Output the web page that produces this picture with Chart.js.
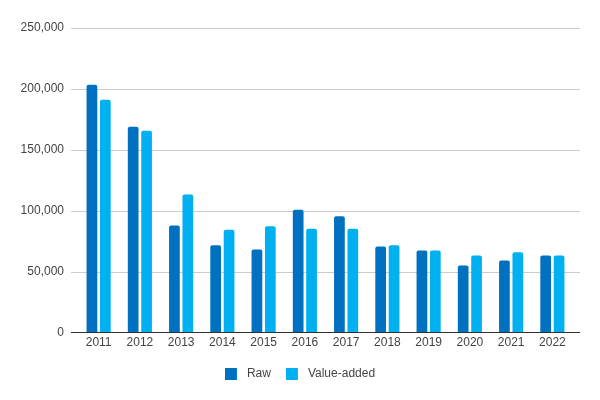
<!DOCTYPE html>
<html>
<head>
<meta charset="utf-8">
<style>
  html, body { margin: 0; padding: 0; background: #fff; }
  #wrap { width: 600px; height: 400px; position: relative; }
</style>
<script src="https://cdn.jsdelivr.net/npm/chart.js@4"></script>
</head>
<body>
<div id="wrap"><canvas id="c" width="600" height="400"></canvas></div>
<script>
const years = ['2011','2012','2013','2014','2015','2016','2017','2018','2019','2020','2021','2022'];
const rawValues = [203300, 168900, 87700, 71500, 68000, 100800, 95300, 70500, 67200, 54900, 59000, 63100];
const valueAddedValues = [191000, 165600, 113300, 84400, 87100, 85200, 85200, 71500, 67200, 63100, 65800, 63100];
const yTicks = [0, 50000, 100000, 150000, 200000, 250000];

const colors = ['#0070C0', '#00B0F0'];
const font = { family: '"Liberation Sans", Arial, sans-serif', size: 12 };

// Legend swatch: 12x12 square on the left of a 16px-wide box (gives a wider gap to the text)
function swatch(color) {
  const c = document.createElement('canvas');
  c.width = 16; c.height = 12;
  const g = c.getContext('2d');
  g.fillStyle = color;
  g.fillRect(0, 0, 12, 12);
  return c;
}
const swatches = colors.map(swatch);

// Draw horizontal gridlines slightly wider than the category area (as in the reference)
const gridPlugin = {
  id: 'wideGrid',
  beforeDatasetsDraw(chart) {
    const { ctx, chartArea, scales } = chart;
    const ext = 7;
    ctx.save();
    scales.y.ticks.forEach(t => {
      if (t.value === 0) return;
      const y = Math.round(scales.y.getPixelForValue(t.value)) + 0.5;
      ctx.beginPath();
      ctx.strokeStyle = '#cccccc';
      ctx.lineWidth = 1;
      ctx.moveTo(chartArea.left - ext, y);
      ctx.lineTo(chartArea.right + ext, y);
      ctx.stroke();
    });
    ctx.restore();
  },
  afterDatasetsDraw(chart) {
    const { ctx, chartArea, scales } = chart;
    const ext = 7;
    const y = Math.round(scales.y.getPixelForValue(0)) + 0.5;
    ctx.save();
    ctx.beginPath();
    ctx.strokeStyle = '#333333';
    ctx.lineWidth = 1;
    ctx.moveTo(chartArea.left - ext, y);
    ctx.lineTo(chartArea.right + ext, y);
    ctx.stroke();
    ctx.restore();
  }
};

new Chart(document.getElementById('c'), {
  type: 'bar',
  data: {
    labels: years,
    datasets: [
      { label: 'Raw', data: rawValues, backgroundColor: colors[0], borderRadius: { topLeft: 2, topRight: 2 }, borderSkipped: 'bottom' },
      { label: 'Value-added', data: valueAddedValues, backgroundColor: colors[1], borderRadius: { topLeft: 2, topRight: 2 }, borderSkipped: 'bottom' }
    ]
  },
  plugins: [gridPlugin],
  options: {
    responsive: false,
    animation: false,
    layout: { padding: { left: 0, right: 0, top: 28, bottom: 10 } },
    datasets: { bar: { categoryPercentage: 0.65, barPercentage: 0.8 } },
    plugins: {
      legend: {
        position: 'bottom',
        labels: {
          font: font, color: '#444', boxWidth: 12, boxHeight: 12, padding: 15,
          usePointStyle: true, pointStyleWidth: 16,
          generateLabels: (chart) => {
            const items = Chart.defaults.plugins.legend.labels.generateLabels(chart);
            items.forEach((it, i) => { it.pointStyle = swatches[i]; it.lineWidth = 0; });
            return items;
          }
        }
      },
      tooltip: { enabled: false }
    },
    scales: {
      x: {
        grid: { display: false, drawTicks: false },
        border: { display: false },
        ticks: { font: font, color: '#444', padding: 3, maxRotation: 0 },
        afterFit: (axis) => { axis.height = 20.6; }
      },
      y: {
        min: 0, max: 250000,
        afterBuildTicks: (axis) => { axis.ticks = yTicks.map(v => ({ value: v })); },
        afterFit: (axis) => { axis.width = 78; },
        grid: { display: false, drawTicks: false },
        border: { display: false },
        ticks: { font: font, color: '#444', padding: 14, callback: v => v.toLocaleString('en-US') }
      },
      yRightSpace: {
        type: 'linear',
        position: 'right',
        display: true,
        min: 0, max: 250000,
        grid: { display: false, drawTicks: false },
        border: { display: false },
        ticks: { display: false },
        afterFit: (axis) => { axis.width = 27; }
      }
    }
  }
});
</script>
</body>
</html>
